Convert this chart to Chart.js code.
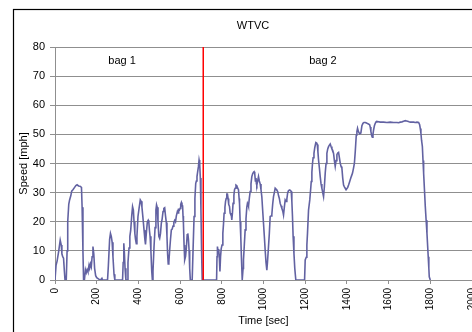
<!DOCTYPE html>
<html>
<head>
<meta charset="utf-8">
<title>WTVC</title>
<script src="https://cdn.jsdelivr.net/npm/chart.js@4.4.1/dist/chart.umd.min.js"></script>
<style>
    html, body { margin: 0; padding: 0; background: #fff; overflow: hidden; }
    #wrap { width: 472px; height: 332px; overflow: hidden; }
</style>
</head>
<body>
<div id="wrap"><canvas id="wtvc" width="500" height="340"></canvas></div>
<script>
// --- WTVC speed trace ---
const timeSec = [
    0, 5, 10, 18, 25, 30, 33, 37, 41, 45, 48, 54, 58, 61, 66, 70, 76, 80, 86, 94,
    100, 106, 113, 120, 127, 130, 134, 137, 141, 146, 150, 154, 158, 163, 166, 170, 174, 178, 182, 186,
    190, 195, 200, 210, 218, 225, 228, 252, 256, 262, 266, 270, 274, 278, 283, 287, 324, 327, 330, 333,
    336, 340, 347, 350, 355, 359, 363, 368, 372, 376, 379, 383, 386, 390, 393, 398, 404, 409, 413, 417,
    421, 427, 431, 434, 438, 443, 447, 450, 453, 456, 460, 464, 467, 470, 475, 480, 484, 487, 490, 494,
    498, 502, 506, 510, 514, 518, 522, 526, 530, 534, 537, 540, 543, 546, 550, 554, 558, 562, 566, 570,
    574, 578, 582, 587, 590, 593, 597, 600, 603, 606, 609, 612, 614, 616, 619, 622, 626, 630, 634, 637,
    640, 643, 646, 649, 658, 662, 667, 671, 675, 678, 681, 684, 688, 691, 694, 697, 700, 703, 706, 775,
    777, 779, 782, 785, 788, 791, 794, 797, 801, 805, 808, 811, 815, 818, 821, 824, 827, 830, 833, 837,
    840, 843, 846, 848, 851, 854, 858, 861, 864, 868, 872, 876, 880, 883, 885, 888, 891, 894, 898, 902,
    904, 908, 912, 916, 920, 923, 926, 928, 932, 936, 940, 944, 948, 952, 955, 958, 961, 964, 966, 968,
    972, 976, 980, 984, 988, 992, 996, 1000, 1004, 1008, 1012, 1016, 1019, 1024, 1028, 1032, 1036, 1040, 1044, 1048,
    1052, 1056, 1060, 1064, 1068, 1072, 1076, 1080, 1084, 1088, 1092, 1096, 1100, 1104, 1108, 1112, 1116, 1120, 1126, 1133,
    1136, 1139, 1142, 1146, 1150, 1155, 1197, 1200, 1205, 1208, 1211, 1216, 1222, 1226, 1229, 1232, 1235, 1238, 1242, 1246,
    1251, 1255, 1258, 1261, 1264, 1268, 1272, 1276, 1280, 1284, 1288, 1292, 1296, 1300, 1304, 1308, 1312, 1316, 1320, 1324,
    1328, 1332, 1336, 1340, 1344, 1348, 1352, 1356, 1360, 1364, 1368, 1372, 1376, 1380, 1384, 1388, 1392, 1396, 1400, 1404,
    1408, 1412, 1416, 1421, 1427, 1432, 1436, 1440, 1445, 1448, 1451, 1455, 1461, 1467, 1472, 1477, 1482, 1488, 1494, 1499,
    1505, 1509, 1512, 1515, 1519, 1522, 1525, 1528, 1532, 1536, 1540, 1544, 1560, 1576, 1592, 1608, 1624, 1640, 1648, 1656,
    1664, 1672, 1680, 1686, 1691, 1698, 1704, 1712, 1720, 1728, 1736, 1744, 1749, 1752, 1755, 1758, 1762, 1765, 1768, 1772,
    1776, 1780, 1784, 1787, 1790, 1793, 1795, 1800
];

const speedMph = [
    0, 5, 6.5, 10, 13.7, 12, 9, 8, 7.5, 3, 0, 0, 10, 20, 26, 27.5, 29, 30.5, 31, 31.8,
    32.4, 32.7, 32.3, 32.2, 31.8, 25, 10, 0, 0, 3.5, 2.5, 3.5, 2.8, 5, 4, 5.5, 4.5, 8, 11.5, 9,
    4, 1.5, 0.8, 0.3, 0, 0.6, 0, 0, 5, 14, 16, 15, 13, 8, 2, 0, 0, 6, 12.6, 9,
    4, 0, 0, 6, 11, 15, 17, 22, 25.2, 24, 20, 16, 14, 12.5, 15, 21.8, 25, 27.5, 27, 25,
    22, 17.2, 14, 12.2, 16, 20, 20.5, 19.8, 17, 15, 10, 3, 0, 3, 11.5, 18, 24, 25.8, 25, 20,
    15, 14.3, 16, 19.5, 21, 23.5, 24.6, 24.8, 22, 19.7, 15, 9, 5.5, 6, 10.3, 14, 17.2, 17.5, 18.5, 19.8,
    20.5, 20, 22, 23.5, 23, 24.2, 24, 24.6, 26, 26.6, 25.8, 25.5, 22, 19.5, 12, 6.9, 8, 11, 15.5, 16,
    14, 10.3, 4, 0, 0, 10, 21.8, 28, 33.2, 34, 35.5, 37, 39, 41.2, 40, 35, 24, 10, 0, 0,
    8, 11.5, 10, 10.6, 8, 2.9, 8, 10.7, 12, 16, 19, 22.9, 25, 27, 28, 29.5, 29.5, 28, 26, 25.2,
    23, 22.5, 22, 20.6, 23, 26.3, 29, 31, 31.5, 32.6, 32.4, 31.5, 31, 28, 26.3, 20, 14.9, 8, 0, 4,
    6.9, 12, 17.2, 21, 25, 26.3, 25.8, 25.3, 28, 30.4, 33, 35.5, 36.5, 37, 37.2, 36.5, 34, 35, 33, 32.6,
    34, 35.5, 34, 33, 31, 28.6, 24, 19.5, 15, 10.3, 6, 3.4, 6, 11.5, 16, 21.8, 22, 22.5, 26, 28.6,
    30, 31.5, 31.2, 30.8, 30.4, 29, 28, 26.3, 25.5, 24.6, 23.8, 22.3, 25, 27.5, 27, 27.8, 30, 30.7, 30.9, 30.4,
    27, 21.8, 15, 9.2, 4, 0, 0, 6.9, 7.8, 12, 16, 24, 27.5, 31, 33.8, 37, 40, 42, 43.5, 45.5,
    47.2, 47, 46.5, 44, 41.2, 38.5, 35.5, 33, 31.5, 30, 28.6, 32, 36.7, 40, 43.5, 45, 45.8, 46.3, 46.7, 45.8,
    45, 44.5, 43.5, 41, 39, 41, 43, 43.6, 43.8, 42, 40.1, 39, 38.4, 35, 32.6, 32, 31.5, 31, 31, 31.8,
    32.6, 33.5, 34.4, 35.5, 36.7, 38.5, 40.1, 44, 49.8, 51, 52.1, 51, 50.2, 50.5, 53, 53.8, 54.1, 54.1, 53.9, 53.7,
    53.5, 53.3, 52.5, 51, 49.5, 49, 50, 51.5, 53, 53.8, 54.3, 54.4, 54.2, 54.2, 54.1, 54.2, 54.1, 54.1, 54, 54.2,
    54.3, 54.5, 54.7, 54.6, 54.5, 54.3, 54.2, 54.2, 54.2, 54.1, 54.2, 54.1, 53.3, 52, 50.4, 48, 45.8, 41, 36.7, 31,
    25.2, 20.5, 16, 12, 8, 4, 1.1, 0
];

// bag split and labels
const bagSplitSec = 711;
const bagLabels = ['bag 1', 'bag 2'];
const bagLabelSec = [322, 1285];
const bagLabelMph = 75.2;

// axis ticks
const xTicks = [0, 200, 400, 600, 800, 1000, 1200, 1400, 1600, 1800, 2000];
const yTicks = [0, 10, 20, 30, 40, 50, 60, 70, 80];

const FONT = '"Liberation Sans", Arial, sans-serif';
const GRID = '#8f8f8f';

const tracePoints = timeSec.map((t, i) => ({ x: t, y: speedMph[i] }));
const splitPoints = [
    { x: bagSplitSec, y: yTicks[0] },
    { x: bagSplitSec, y: yTicks[yTicks.length - 1] }
];

// white background + black outer frame like the Excel chart
const framePlugin = {
    id: 'frame',
    beforeDraw(chart) {
        const ctx = chart.ctx;
        ctx.save();
        ctx.fillStyle = '#fff';
        ctx.fillRect(0, 0, chart.width, chart.height);
        ctx.restore();
    },
    afterDraw(chart) {
        const ctx = chart.ctx;
        ctx.save();
        ctx.strokeStyle = '#000';
        ctx.lineWidth = 1.2;
        ctx.strokeRect(13.5, 9.5, 700, 700);
        ctx.restore();
    }
};

// "bag 1" / "bag 2" texts placed through the scales
const bagPlugin = {
    id: 'bags',
    afterDatasetsDraw(chart) {
        const ctx = chart.ctx;
        const xs = chart.scales.x;
        const ys = chart.scales.y;
        ctx.save();
        ctx.font = '11px ' + FONT;
        ctx.fillStyle = '#000';
        ctx.textAlign = 'center';
        ctx.textBaseline = 'middle';
        bagLabels.forEach((txt, i) => {
            ctx.fillText(txt, xs.getPixelForValue(bagLabelSec[i]), ys.getPixelForValue(bagLabelMph));
        });
        ctx.restore();
    }
};

new Chart(document.getElementById('wtvc'), {
    type: 'line',
    data: {
        datasets: [{
            label: 'Speed',
            data: tracePoints,
            borderColor: '#6262a2',
            borderWidth: 1.6,
            pointRadius: 0,
            tension: 0,
            order: 2
        }, {
            label: 'bag split',
            data: splitPoints,
            borderColor: '#ff0000',
            borderWidth: 1.5,
            pointRadius: 0,
            order: 1
        }]
    },
    plugins: [framePlugin, bagPlugin],
    options: {
        responsive: false,
        animation: false,
        events: [],
        layout: { padding: { left: 14, top: 10, right: 8, bottom: 8 } },
        plugins: {
            legend: { display: false },
            tooltip: { enabled: false },
            title: {
                display: true,
                text: 'WTVC',
                color: '#000',
                font: { family: FONT, size: 11, weight: 'normal' },
                padding: { top: 9.4, bottom: 14.4 }
            }
        },
        scales: {
            x: {
                type: 'linear',
                min: xTicks[0],
                max: xTicks[xTicks.length - 1],
                afterBuildTicks(scale) {
                    scale.ticks = xTicks.map(v => ({ value: v }));
                },
                afterFit(scale) { scale.height = 52; },
                grid: { drawOnChartArea: false, drawTicks: true, tickLength: 4, color: GRID },
                border: { display: true, color: GRID },
                ticks: {
                    autoSkip: false,
                    minRotation: 90,
                    maxRotation: 90,
                    padding: 4,
                    color: '#000',
                    font: { family: FONT, size: 10 },
                    callback: v => String(v)
                },
                title: {
                    display: true,
                    text: 'Time [sec]',
                    color: '#000',
                    font: { family: FONT, size: 11 },
                    padding: { top: 0, bottom: 4 }
                }
            },
            y: {
                type: 'linear',
                position: 'left',
                min: yTicks[0],
                max: yTicks[yTicks.length - 1],
                afterBuildTicks(scale) {
                    scale.ticks = yTicks.map(v => ({ value: v }));
                },
                afterFit(scale) { scale.width = 41; },
                grid: { drawOnChartArea: true, drawTicks: true, tickLength: 5, color: GRID },
                border: { display: true, color: GRID },
                ticks: {
                    padding: 5,
                    color: '#000',
                    font: { family: FONT, size: 11 },
                    callback: v => String(v)
                },
                title: {
                    display: true,
                    text: 'Speed [mph]',
                    color: '#000',
                    font: { family: FONT, size: 11 },
                    padding: { top: 3, bottom: 0 }
                }
            },
            // empty right-hand box so the title centres over the whole frame
            yRight: {
                type: 'linear',
                position: 'right',
                display: true,
                afterFit(scale) { scale.width = 20; },
                grid: { display: false },
                border: { display: false },
                ticks: { display: false },
                title: { display: false }
            }
        }
    }
});
</script>
</body>
</html>
